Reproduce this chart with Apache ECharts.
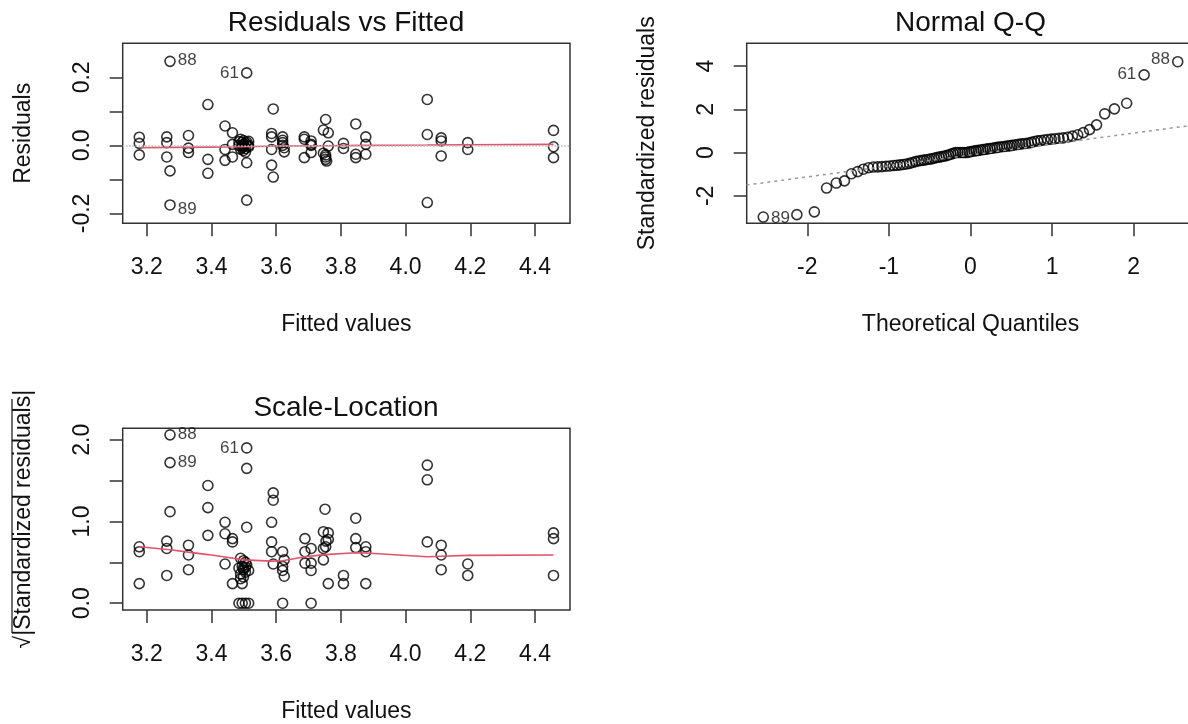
<!DOCTYPE html>
<html>
<head>
<meta charset="utf-8">
<title>lm diagnostics</title>
<script src="https://cdn.jsdelivr.net/npm/echarts@6.0.0/dist/echarts.min.js"></script>
<style>
  html, body { margin: 0; padding: 0; background: #fff; }
  #chart { width: 1188px; height: 724px; }
</style>
</head>
<body>
<div id="chart"></div>
<script>
// Residuals vs Fitted
const rvfFitted = [
    3.177, 3.177, 3.177, 3.262, 3.262, 3.262, 3.272, 3.329, 3.329, 3.329,
    3.389, 3.389, 3.389, 3.442, 3.442, 3.442, 3.465, 3.465, 3.465,
    3.485, 3.485, 3.490, 3.490, 3.495, 3.495, 3.495, 3.499, 3.499, 3.499, 3.499, 3.499,
    3.505, 3.505, 3.505, 3.509, 3.509, 3.509, 3.515, 3.515, 3.515,
    3.586, 3.586, 3.586, 3.586, 3.591, 3.591, 3.620, 3.620, 3.620, 3.620, 3.625, 3.625,
    3.687, 3.687, 3.687, 3.708, 3.708, 3.708, 3.708,
    3.746, 3.746, 3.753, 3.753, 3.753, 3.753, 3.756, 3.761, 3.761,
    3.808, 3.808, 3.846, 3.846, 3.846, 3.877, 3.877, 3.877,
    4.067, 4.067, 4.067, 4.110, 4.110, 4.110, 4.192, 4.192, 4.457, 4.457, 4.457
];
const rvfResid = [
    0.024, 0.006, -0.028, 0.025, 0.008, -0.034, -0.075, 0.029, -0.008, -0.021,
    0.120, -0.041, -0.082, 0.057, -0.012, -0.044, 0.037, -0.034, 0.003,
    0.011, 0.000, 0.018, -0.011, -0.006, 0.000, 0.009, 0.003, -0.015, 0.014, 0.000, -0.003,
    -0.009, 0.006, -0.020, -0.161, -0.051, 0.010, 0.000, -0.004, 0.012,
    0.035, 0.025, -0.012, -0.058, 0.107, -0.093, 0.025, 0.008, 0.000, 0.015, -0.007, -0.019,
    0.025, -0.036, 0.018, 0.013, 0.003, -0.021, 0.000,
    0.045, -0.023, 0.076, -0.034, -0.041, -0.028, -0.046, 0.037, -0.002,
    0.006, -0.009, 0.063, -0.026, -0.036, 0.025, 0.003, -0.026,
    0.135, 0.032, -0.168, 0.022, 0.013, -0.031, 0.008, -0.012, 0.044, -0.004, -0.036
];
const rvfIdNames = ['88', '61', '89'];
const rvfIdFitted = [3.272, 3.509, 3.272];
const rvfIdResid = [0.247, 0.213, -0.175];
const rvfSmoothX = [3.177, 3.272, 3.389, 3.500, 3.620, 3.750, 3.877, 4.067, 4.192, 4.457];
const rvfSmoothY = [-0.007, -0.006, -0.005, -0.004, -0.002, -0.001, 0.000, 0.001, 0.002, 0.003];

// Normal Q-Q
const qqTheoretical = [
    -2.540, -2.128, -1.914, -1.764, -1.645, -1.545, -1.459, -1.383, -1.314, -1.250,
    -1.192, -1.137, -1.085, -1.036, -0.990, -0.945, -0.903, -0.862, -0.822, -0.783,
    -0.746, -0.710, -0.674, -0.640, -0.606, -0.573, -0.540, -0.508, -0.477, -0.446,
    -0.415, -0.385, -0.355, -0.326, -0.297, -0.268, -0.239, -0.210, -0.182, -0.154,
    -0.126, -0.098, -0.070, -0.042, -0.014, 0.014, 0.042, 0.070, 0.098, 0.126,
    0.154, 0.182, 0.210, 0.239, 0.268, 0.297, 0.326, 0.355, 0.385, 0.415,
    0.446, 0.477, 0.508, 0.540, 0.573, 0.606, 0.640, 0.674, 0.710, 0.746,
    0.783, 0.822, 0.862, 0.903, 0.945, 0.990, 1.036, 1.085, 1.137, 1.192,
    1.250, 1.314, 1.383, 1.459, 1.545, 1.645, 1.764, 1.914, 2.128, 2.540
];
const qqSample = [
    -2.98, -2.87, -2.74, -1.64, -1.41, -1.31, -0.98, -0.88, -0.77, -0.70,
    -0.67, -0.66, -0.65, -0.63, -0.62, -0.60, -0.59, -0.57, -0.55, -0.53,
    -0.50, -0.46, -0.42, -0.39, -0.37, -0.35, -0.33, -0.31, -0.29, -0.26,
    -0.23, -0.21, -0.19, -0.17, -0.14, -0.11, -0.07, -0.04, 0.00, 0.00,
    0.00, 0.00, 0.00, 0.00, 0.03, 0.05, 0.07, 0.09, 0.10, 0.12,
    0.14, 0.15, 0.17, 0.19, 0.20, 0.22, 0.24, 0.26, 0.27, 0.28,
    0.30, 0.31, 0.33, 0.35, 0.37, 0.39, 0.41, 0.42, 0.44, 0.47,
    0.51, 0.54, 0.56, 0.58, 0.60, 0.62, 0.64, 0.66, 0.68, 0.71,
    0.76, 0.82, 0.92, 1.06, 1.28, 1.79, 2.02, 2.28, 3.59, 4.20
];
const qqIdNames = ['89', '61', '88'];
const qqIdRank = [0, 88, 89];
const qqLineX = [-3, 3];
const qqLineY = [-1.630, 1.406];

// Scale-Location
const slFitted = [
    3.177, 3.177, 3.177, 3.262, 3.262, 3.262, 3.272, 3.329, 3.329, 3.329,
    3.389, 3.389, 3.389, 3.442, 3.442, 3.442, 3.465, 3.465, 3.465,
    3.485, 3.485, 3.490, 3.490, 3.490, 3.495, 3.495, 3.495, 3.499, 3.499, 3.499, 3.499,
    3.505, 3.505, 3.505, 3.505, 3.509, 3.509, 3.509, 3.515, 3.515,
    3.586, 3.586, 3.586, 3.591, 3.591, 3.591, 3.620, 3.620, 3.620, 3.620, 3.625, 3.625,
    3.689, 3.689, 3.689, 3.708, 3.708, 3.708, 3.708,
    3.746, 3.746, 3.746, 3.751, 3.753, 3.754, 3.761, 3.761, 3.761,
    3.808, 3.808, 3.846, 3.846, 3.846, 3.877, 3.877, 3.877,
    4.067, 4.067, 4.067, 4.110, 4.110, 4.110, 4.192, 4.192, 4.457, 4.457, 4.457
];
const slValue = [
    0.69, 0.63, 0.24, 0.76, 0.67, 0.34, 1.12, 0.71, 0.59, 0.41,
    1.44, 1.17, 0.83, 0.99, 0.85, 0.48, 0.79, 0.75, 0.24,
    0.43, 0.00, 0.55, 0.36, 0.30, 0.24, 0.45, 0.00, 0.43, 0.32, 0.41, 0.52,
    0.38, 0.50, 0.44, 0.00, 1.65, 0.93, 0.47, 0.40, 0.00,
    0.99, 0.75, 0.63, 1.35, 1.26, 0.48, 0.63, 0.40, 0.45, 0.00, 0.53, 0.33,
    0.79, 0.63, 0.49, 0.67, 0.49, 0.40, 0.00,
    0.875, 0.67, 0.53, 1.15, 0.69, 0.76, 0.86, 0.78, 0.24,
    0.34, 0.24, 1.04, 0.79, 0.68, 0.69, 0.63, 0.24,
    1.69, 1.51, 0.75, 0.71, 0.59, 0.41, 0.48, 0.34, 0.86, 0.79, 0.34
];
const slIdNames = ['88', '89', '61'];
const slIdFitted = [3.272, 3.272, 3.509];
const slIdValue = [2.06, 1.72, 1.90];
const slSmoothX = [3.177, 3.272, 3.329, 3.389, 3.442, 3.500, 3.586, 3.620, 3.689, 3.750, 3.846, 3.877, 4.067, 4.110, 4.192, 4.457];
const slSmoothY = [0.69, 0.655, 0.625, 0.595, 0.565, 0.53, 0.515, 0.52, 0.568, 0.595, 0.617, 0.615, 0.568, 0.575, 0.585, 0.589];

// Ticks and tick labels
const fittedTicks = [3.2, 3.4, 3.6, 3.8, 4.0, 4.2, 4.4];
const residTicks = [-0.2, -0.1, 0, 0.1, 0.2];
const residLabels = [-0.2, 0, 0.2];
const quantTicks = [-2, -1, 0, 1, 2];
const stdTicks = [-2, 0, 2, 4];
const slTicks = [0, 0.5, 1, 1.5, 2];
const slLabels = [0, 1, 2];

var FONT = '"Liberation Sans", Arial, Helvetica, sans-serif';
var INK = '#111';
var RED = '#DF536B';

function zip(xs, ys) {
    return xs.map(function (x, i) { return [x, ys[i]]; });
}

function xAxisOpt(gi, min, max, ticks, digits, name) {
    return {
        type: 'value', gridIndex: gi, min: min, max: max,
        axisLine: { show: false, onZero: false },
        splitLine: { show: false },
        axisTick: { show: true, customValues: ticks, length: 13, lineStyle: { color: '#333', width: 1.5 } },
        axisLabel: {
            show: true, customValues: ticks, margin: 33, fontSize: 23, color: INK, fontFamily: FONT,
            formatter: function (v) { return Number(v).toFixed(digits); }
        },
        name: name, nameLocation: 'middle', nameGap: 90,
        nameTextStyle: { fontSize: 23, color: INK, fontFamily: FONT }
    };
}

function yAxisOpt(gi, min, max, ticks, labels, digits, name) {
    return {
        type: 'value', gridIndex: gi, min: min, max: max,
        axisLine: { show: false, onZero: false },
        splitLine: { show: false },
        axisTick: { show: true, customValues: ticks, length: 13, lineStyle: { color: '#333', width: 1.5 } },
        axisLabel: {
            show: true, customValues: labels, rotate: 90, margin: 29, fontSize: 23, color: INK, fontFamily: FONT,
            formatter: function (v) { return Number(v).toFixed(digits); }
        },
        name: name, nameLocation: 'middle', nameGap: 88, nameRotate: 90,
        nameTextStyle: { fontSize: 23, color: INK, fontFamily: FONT }
    };
}

function gridOpt(pos) {
    return Object.assign({
        show: true, borderColor: '#333', borderWidth: 1.5, backgroundColor: 'transparent',
        outerBoundsMode: 'none', containLabel: false
    }, pos);
}

function circles(i, data) {
    return {
        type: 'scatter', xAxisIndex: i, yAxisIndex: i, data: data,
        symbol: 'circle', symbolSize: 10, silent: true, z: 3,
        itemStyle: { color: 'rgba(0,0,0,0)', borderColor: '#000', borderWidth: 1.6 }
    };
}

// points with observation numbers beside them
function idPoints(i, names, xs, ys, positions, offsets) {
    var data = names.map(function (n, k) {
        return {
            name: n, value: [xs[k], ys[k]],
            label: { position: positions[k], offset: offsets[k] }
        };
    });
    var s = circles(i, data);
    s.label = { show: true, formatter: '{b}', distance: 2, fontSize: 17, color: INK, fontFamily: FONT };
    return s;
}

function smoothLine(i, xs, ys) {
    return {
        type: 'line', xAxisIndex: i, yAxisIndex: i, data: zip(xs, ys),
        showSymbol: false, silent: true, z: 4,
        lineStyle: { color: RED, width: 1.6 }
    };
}

var qqIdX = qqIdRank.map(function (r) { return qqTheoretical[r]; });
var qqIdY = qqIdRank.map(function (r) { return qqSample[r]; });
var qqRest = zip(qqTheoretical, qqSample).filter(function (p, k) { return qqIdRank.indexOf(k) < 0; });

var titles = [
    { text: 'Residuals vs Fitted', x: 346, y: 23 },
    { text: 'Normal Q-Q', x: 970.5, y: 23 },
    { text: 'Scale-Location', x: 346, y: 408 }
];

var graphics = titles.map(function (t) {
    return {
        type: 'text', x: t.x, y: t.y, silent: true,
        style: { text: t.text, align: 'center', verticalAlign: 'middle', fontSize: 28, fontFamily: FONT, fill: INK }
    };
});
// bar over |Standardized residuals| of the square-root sign
graphics.push({
    type: 'line', silent: true,
    shape: { x1: 12, y1: 399, x2: 12, y2: 633 },
    style: { stroke: INK, lineWidth: 1.2 }
});

var option = {
    animation: false,
    backgroundColor: '#fff',
    grid: [
        gridOpt({ left: 122.7, top: 43.3, width: 447.3, height: 180 }),
        gridOpt({ left: 746.7, top: 43.3, width: 447.6, height: 180 }),
        gridOpt({ left: 122.7, top: 428.3, width: 447.3, height: 181.7 })
    ],
    xAxis: [
        xAxisOpt(0, 3.1258, 4.508, fittedTicks, 1, 'Fitted values'),
        xAxisOpt(1, -2.743, 2.743, quantTicks, 0, 'Theoretical Quantiles'),
        xAxisOpt(2, 3.1258, 4.508, fittedTicks, 1, 'Fitted values')
    ],
    yAxis: [
        yAxisOpt(0, -0.229, 0.30, residTicks, residLabels, 1, 'Residuals'),
        yAxisOpt(1, -3.27, 5.05, stdTicks, stdTicks, 0, 'Standardized residuals'),
        yAxisOpt(2, -0.083, 2.14, slTicks, slLabels, 1, '\u221A|Standardized residuals|')
    ],
    graphic: graphics,
    series: [
        // Residuals vs Fitted
        circles(0, zip(rvfFitted, rvfResid)),
        idPoints(0, rvfIdNames, rvfIdFitted, rvfIdResid, ['right', 'left', 'right'], [[0, -1], [0, 0], [0, 4]]),
        (function () {
            var s = smoothLine(0, rvfSmoothX, rvfSmoothY);
            s.markLine = {
                silent: true, symbol: ['none', 'none'], label: { show: false },
                lineStyle: { color: '#bebebe', type: 'dotted', width: 1.6 },
                data: [{ yAxis: 0 }]
            };
            return s;
        })(),

        // Normal Q-Q
        circles(1, qqRest),
        idPoints(1, qqIdNames, qqIdX, qqIdY, ['right', 'left', 'left'], [[0, 1], [0, -1], [0, -2]]),
        {
            type: 'line', xAxisIndex: 1, yAxisIndex: 1, data: zip(qqLineX, qqLineY),
            showSymbol: false, silent: true, z: 4, clip: true,
            lineStyle: { color: '#999', width: 1.5, type: [3, 4] }
        },

        // Scale-Location
        circles(2, zip(slFitted, slValue)),
        idPoints(2, slIdNames, slIdFitted, slIdValue, ['right', 'right', 'left'], [[0, -1], [0, 0], [0, 0]]),
        smoothLine(2, slSmoothX, slSmoothY)
    ]
};

var chart = echarts.init(document.getElementById('chart'), null, { renderer: 'canvas' });
chart.setOption(option);
window.addEventListener('resize', function () { chart.resize(); });
</script>
</body>
</html>
